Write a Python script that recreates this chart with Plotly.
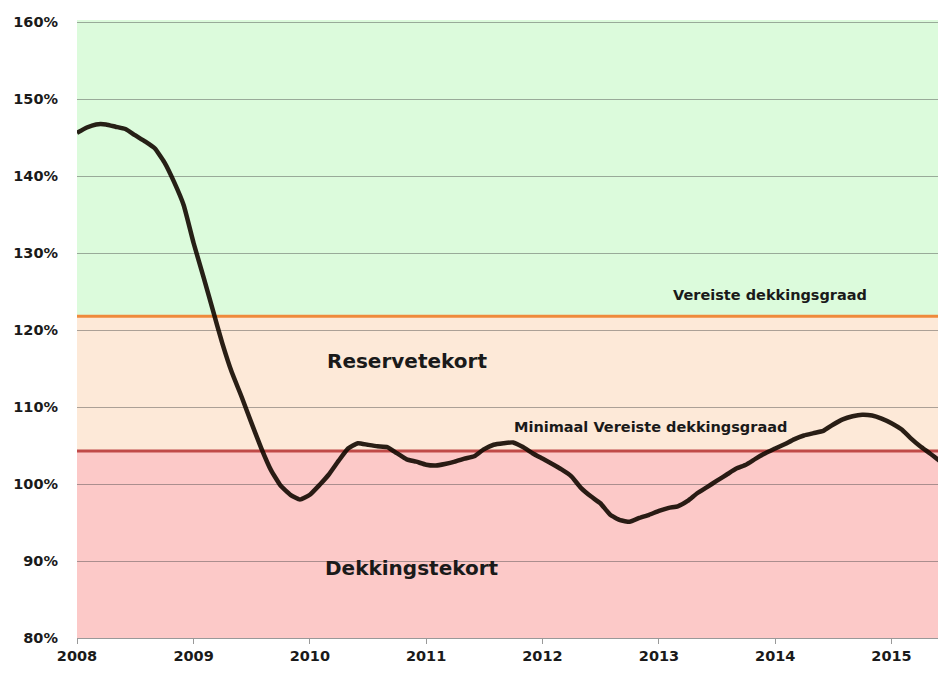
import plotly.graph_objects as go

# ---- data ----
start_year, start_month = 2008, 1
values = [
    145.6, 146.3, 146.7, 146.7, 146.4, 146.1, 145.3, 144.5, 143.6, 141.8,
    139.2, 136.2, 131.3, 126.9, 122.8, 118.3, 114.5, 111.3, 108.0, 104.7,
    101.8, 99.8, 98.6, 98.0, 98.6, 99.9, 101.2, 103.0, 104.6, 105.3,
    105.1, 104.9, 104.8, 104.0, 103.2, 102.9, 102.5, 102.4, 102.6, 102.9,
    103.3, 103.6, 104.5, 105.1, 105.3, 105.4, 104.8, 104.0, 103.3, 102.6,
    101.9, 101.0, 99.5, 98.4, 97.5, 96.0, 95.3, 95.1, 95.6, 96.0,
    96.5, 96.9, 97.1, 97.8, 98.8, 99.6, 100.4, 101.2, 102.0, 102.5,
    103.3, 104.0, 104.6, 105.2, 105.8, 106.3, 106.6, 106.9, 107.7, 108.4,
    108.8, 109.0, 108.9, 108.5, 107.9, 107.1, 106.0, 104.9, 104.0, 103.0,
]
dates = []
for i in range(len(values)):
    y = start_year + (start_month - 1 + i) // 12
    m = (start_month - 1 + i) % 12 + 1
    dates.append(f"{y}-{m:02d}-01")

vereiste = 121.8
minimaal_vereiste = 104.3
year_ticks = ["2008", "2009", "2010", "2011", "2012", "2013", "2014", "2015"]
y_ticks = [80, 90, 100, 110, 120, 130, 140, 150, 160]
y_tick_labels = [f"{v}%" for v in y_ticks]

FONT = "DejaVu Sans"
YTOP = 160.26

fig = go.Figure()
fig.add_trace(go.Scatter(
    x=dates, y=values, mode="lines",
    line=dict(color="rgba(18,8,0,0.9)", width=4.5, shape="spline", smoothing=0.4),
    hoverinfo="skip", showlegend=False,
))

shapes = [
    dict(type="rect", xref="paper", yref="y", x0=0, x1=1, y0=vereiste, y1=YTOP,
         fillcolor="#dcfbdc", line_width=0, layer="below"),
    dict(type="rect", xref="paper", yref="y", x0=0, x1=1, y0=minimaal_vereiste, y1=vereiste,
         fillcolor="#fde9d8", line_width=0, layer="below"),
    dict(type="rect", xref="paper", yref="y", x0=0, x1=1, y0=80, y1=minimaal_vereiste,
         fillcolor="#fcc9c8", line_width=0, layer="below"),
    dict(type="line", xref="paper", yref="y", x0=0, x1=1, y0=vereiste, y1=vereiste,
         line=dict(color="#ef8a3c", width=3), layer="between"),
    dict(type="line", xref="paper", yref="y", x0=0, x1=1, y0=minimaal_vereiste, y1=minimaal_vereiste,
         line=dict(color="#c04a48", width=3), layer="between"),
]

ann_font = dict(family=FONT, size=14.5, color="#1a1a1a")
big_font = dict(family=FONT, size=20, color="#1a1a1a")
annotations = [
    dict(x="2013-12-15", y=124.55, text="<b>Vereiste dekkingsgraad</b>", showarrow=False,
         font=ann_font, xanchor="center", yanchor="middle"),
    dict(x="2012-12-05", y=107.4, text="<b>Minimaal Vereiste dekkingsgraad</b>", showarrow=False,
         font=ann_font, xanchor="center", yanchor="middle"),
    dict(x="2010-11-01", y=115.97, text="<b>Reservetekort</b>", showarrow=False,
         font=big_font, xanchor="center", yanchor="middle"),
    dict(x="2010-11-17", y=89.1, text="<b>Dekkingstekort</b>", showarrow=False,
         font=big_font, xanchor="center", yanchor="middle"),
]

fig.update_layout(
    width=938, height=673,
    margin=dict(l=77, r=0, t=20, b=35),
    paper_bgcolor="white", plot_bgcolor="white",
    shapes=shapes, annotations=annotations,
    showlegend=False,
    xaxis=dict(
        type="date", range=["2008-01-01", "2015-05-27"],
        tickvals=[f"{y}-01-01" for y in year_ticks], ticktext=[f"<b>{y}</b>" for y in year_ticks],
        ticks="outside", ticklen=5, tickcolor="#999999", tickwidth=1,
        showgrid=False, showline=True, linecolor="#999999", linewidth=1,
        tickfont=dict(family=FONT, size=14.5, color="#1a1a1a"),
        zeroline=False, fixedrange=True,
    ),
    yaxis=dict(
        range=[80, YTOP],
        tickvals=y_ticks, ticktext=[f"<b>{t}</b>" for t in y_tick_labels],
        showgrid=True, gridcolor="rgba(70,70,70,0.45)", gridwidth=1,
        ticks="", showline=False, zeroline=False,
        tickfont=dict(family=FONT, size=14.5, color="#1a1a1a"),
        ticklabelstandoff=18, fixedrange=True,
    ),
)

fig.write_html("out.html", config={"displayModeBar": False},
               post_script="document.body.style.margin='0';document.body.style.overflow='hidden';")
